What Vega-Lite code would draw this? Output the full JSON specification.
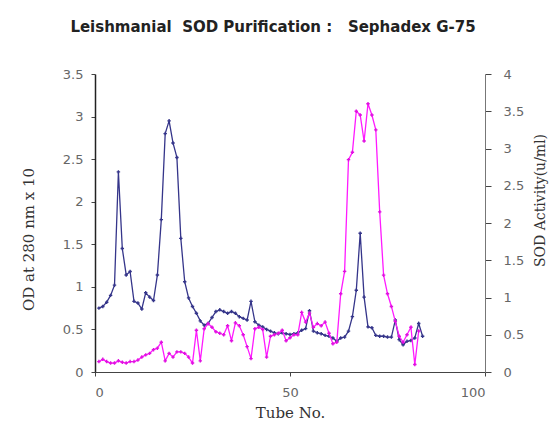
{
  "$schema": "https://vega.github.io/schema/vega-lite/v6.json",
  "width": 390,
  "height": 298,
  "autosize": "none",
  "padding": {"left": 95, "top": 74, "right": 73, "bottom": 62},
  "background": "white",
  "title": {
    "text": "Leishmanial\u00a0\u00a0SOD Purification :\u00a0\u00a0\u00a0Sephadex G-75",
    "font": "DejaVu Sans",
    "fontSize": 15,
    "fontWeight": "bold",
    "color": "#222222",
    "anchor": "middle",
    "dx": -17,
    "offset": 33
  },
  "config": {
    "view": {"stroke": null},
    "axis": {
      "grid": false,
      "labelFont": "DejaVu Sans",
      "labelFontSize": 13,
      "labelColor": "#666666",
      "titleFont": "DejaVu Serif",
      "titleFontSize": 15,
      "titleFontWeight": "normal",
      "titleColor": "#333333",
      "tickColor": "#444444",
      "domainColor": "#444444",
      "tickSize": 4,
      "format": "~r"
    }
  },
  "data": {
    "values": [
      {"tube": 1, "od": 0.75, "sod": 0.14},
      {"tube": 2, "od": 0.77, "sod": 0.17},
      {"tube": 3, "od": 0.82, "sod": 0.14},
      {"tube": 4, "od": 0.9, "sod": 0.12},
      {"tube": 5, "od": 1.02, "sod": 0.12},
      {"tube": 6, "od": 2.35, "sod": 0.15},
      {"tube": 7, "od": 1.45, "sod": 0.13},
      {"tube": 8, "od": 1.14, "sod": 0.12},
      {"tube": 9, "od": 1.18, "sod": 0.14},
      {"tube": 10, "od": 0.83, "sod": 0.14},
      {"tube": 11, "od": 0.81, "sod": 0.16},
      {"tube": 12, "od": 0.74, "sod": 0.2},
      {"tube": 13, "od": 0.93, "sod": 0.23},
      {"tube": 14, "od": 0.88, "sod": 0.25},
      {"tube": 15, "od": 0.84, "sod": 0.3},
      {"tube": 16, "od": 1.14, "sod": 0.32},
      {"tube": 17, "od": 1.79, "sod": 0.4},
      {"tube": 18, "od": 2.8, "sod": 0.15},
      {"tube": 19, "od": 2.95, "sod": 0.25},
      {"tube": 20, "od": 2.69, "sod": 0.2},
      {"tube": 21, "od": 2.52, "sod": 0.27},
      {"tube": 22, "od": 1.57, "sod": 0.27},
      {"tube": 23, "od": 1.06, "sod": 0.25},
      {"tube": 24, "od": 0.87, "sod": 0.2},
      {"tube": 25, "od": 0.77, "sod": 0.12},
      {"tube": 26, "od": 0.69, "sod": 0.56},
      {"tube": 27, "od": 0.6, "sod": 0.15},
      {"tube": 28, "od": 0.55, "sod": 0.58},
      {"tube": 29, "od": 0.57, "sod": 0.65},
      {"tube": 30, "od": 0.64, "sod": 0.6},
      {"tube": 31, "od": 0.71, "sod": 0.54},
      {"tube": 32, "od": 0.73, "sod": 0.52},
      {"tube": 33, "od": 0.71, "sod": 0.5},
      {"tube": 34, "od": 0.69, "sod": 0.62},
      {"tube": 35, "od": 0.71, "sod": 0.42},
      {"tube": 36, "od": 0.69, "sod": 0.66},
      {"tube": 37, "od": 0.65, "sod": 0.62},
      {"tube": 38, "od": 0.63, "sod": 0.5},
      {"tube": 39, "od": 0.61, "sod": 0.34},
      {"tube": 40, "od": 0.83, "sod": 0.18},
      {"tube": 41, "od": 0.59, "sod": 0.58},
      {"tube": 42, "od": 0.55, "sod": 0.6},
      {"tube": 43, "od": 0.53, "sod": 0.57},
      {"tube": 44, "od": 0.5, "sod": 0.2},
      {"tube": 45, "od": 0.48, "sod": 0.48},
      {"tube": 46, "od": 0.46, "sod": 0.5},
      {"tube": 47, "od": 0.45, "sod": 0.52},
      {"tube": 48, "od": 0.46, "sod": 0.56},
      {"tube": 49, "od": 0.45, "sod": 0.42},
      {"tube": 50, "od": 0.44, "sod": 0.46},
      {"tube": 51, "od": 0.45, "sod": 0.5},
      {"tube": 52, "od": 0.46, "sod": 0.5},
      {"tube": 53, "od": 0.49, "sod": 0.8},
      {"tube": 54, "od": 0.51, "sod": 0.67},
      {"tube": 55, "od": 0.72, "sod": 0.79},
      {"tube": 56, "od": 0.48, "sod": 0.6},
      {"tube": 57, "od": 0.46, "sod": 0.65},
      {"tube": 58, "od": 0.45, "sod": 0.62},
      {"tube": 59, "od": 0.43, "sod": 0.67},
      {"tube": 60, "od": 0.42, "sod": 0.52},
      {"tube": 61, "od": 0.4, "sod": 0.38},
      {"tube": 62, "od": 0.36, "sod": 0.4},
      {"tube": 63, "od": 0.4, "sod": 1.05},
      {"tube": 64, "od": 0.41, "sod": 1.35},
      {"tube": 65, "od": 0.48, "sod": 2.85},
      {"tube": 66, "od": 0.65, "sod": 2.95},
      {"tube": 67, "od": 0.96, "sod": 3.5},
      {"tube": 68, "od": 1.63, "sod": 3.45},
      {"tube": 69, "od": 0.88, "sod": 3.1},
      {"tube": 70, "od": 0.53, "sod": 3.6},
      {"tube": 71, "od": 0.52, "sod": 3.45},
      {"tube": 72, "od": 0.43, "sod": 3.25},
      {"tube": 73, "od": 0.42, "sod": 2.15},
      {"tube": 74, "od": 0.42, "sod": 1.3},
      {"tube": 75, "od": 0.41, "sod": 1.05},
      {"tube": 76, "od": 0.41, "sod": 0.88},
      {"tube": 77, "od": 0.61, "sod": 0.68},
      {"tube": 78, "od": 0.38, "sod": 0.48},
      {"tube": 79, "od": 0.32, "sod": 0.4},
      {"tube": 80, "od": 0.36, "sod": 0.5},
      {"tube": 81, "od": 0.37, "sod": 0.6},
      {"tube": 82, "od": 0.4, "sod": 0.1},
      {"tube": 83, "od": 0.57, "sod": 0.55},
      {"tube": 84, "od": 0.42, "sod": null}
    ]
  },
  "encoding": {
    "x": {
      "field": "tube",
      "type": "quantitative",
      "scale": {"domain": [0, 100], "nice": false},
      "axis": {"values": [0, 50, 100], "title": "Tube No.", "labelPadding": 10, "titleX": 195, "titleY": 40, "titleAlign": "center", "titleBaseline": "middle"}
    }
  },
  "layer": [
    {
      "encoding": {
        "y": {
          "field": "od",
          "type": "quantitative",
          "scale": {"domain": [0, 3.5], "nice": false},
          "axis": {"values": [0, 0.5, 1, 1.5, 2, 2.5, 3, 3.5], "title": "OD at 280 nm x 10", "titleX": -67, "titleY": 165, "titleAlign": "center", "titleBaseline": "middle", "titleAngle": 270, "labelPadding": 8, "domainColor": "#222222", "domainWidth": 1.5}
        }
      },
      "layer": [
        {"mark": {"type": "line", "color": "#35358a", "strokeWidth": 1.3}},
        {"mark": {"type": "point", "shape": "cross", "size": 12, "filled": true, "color": "#35358a", "opacity": 1}}
      ]
    },
    {
      "encoding": {
        "y": {
          "field": "sod",
          "type": "quantitative",
          "scale": {"domain": [0, 4], "nice": false},
          "axis": {"orient": "right", "values": [0, 0.5, 1, 1.5, 2, 2.5, 3, 3.5, 4], "title": "SOD Activity(u/ml)", "titleFontSize": 14, "titleX": 55, "titleY": 126, "titleAlign": "center", "titleBaseline": "middle", "titleAngle": 270, "labelPadding": 12, "tickSize": 6, "domainColor": "#777777"}
        }
      },
      "layer": [
        {"mark": {"type": "line", "color": "#ff1aff", "strokeWidth": 1.3}},
        {"mark": {"type": "point", "shape": "cross", "size": 12, "filled": true, "color": "#e010e0", "opacity": 1}}
      ]
    }
  ],
  "resolve": {"scale": {"y": "independent"}}
}
